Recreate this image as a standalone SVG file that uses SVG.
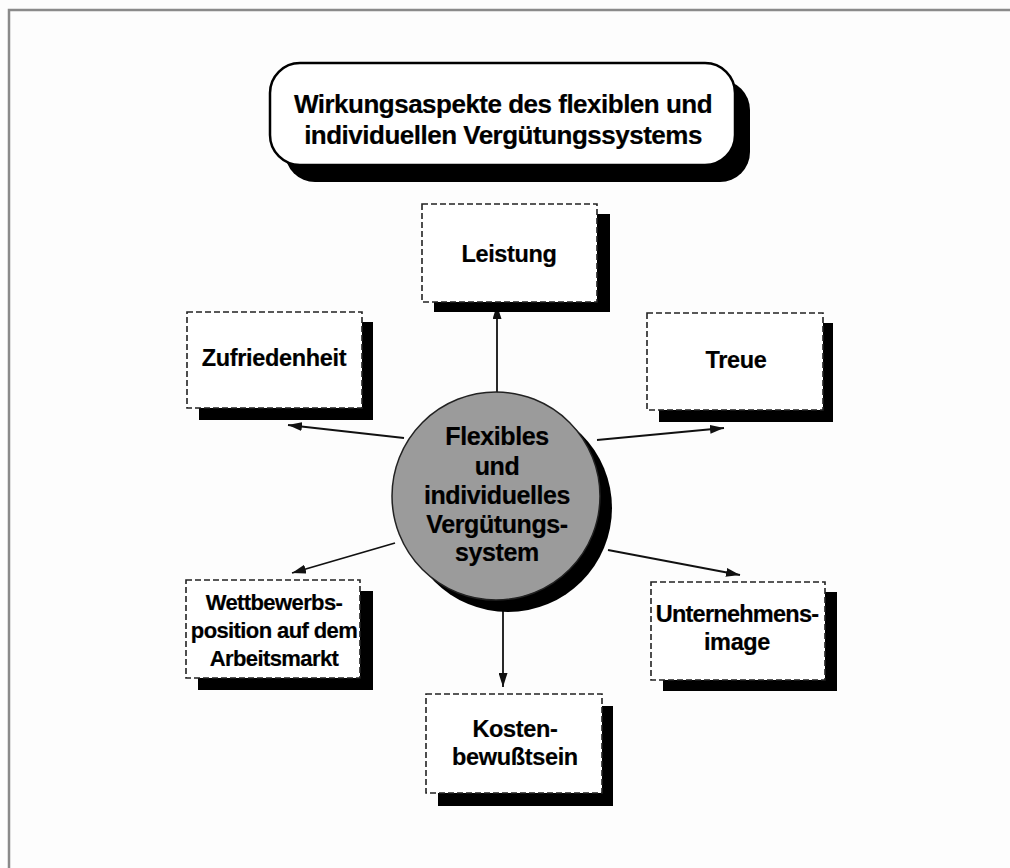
<svg xmlns="http://www.w3.org/2000/svg" width="1010" height="868" viewBox="0 0 1010 868">
  <style>
    text { font-family: "Liberation Sans", Arial, Helvetica, sans-serif; font-weight: bold; fill: #000; stroke: #000; stroke-width: 0.2; text-anchor: middle; }
    .title { font-size: 26px; letter-spacing: -0.5px; }
    .lbl { font-size: 23.5px; letter-spacing: -0.35px; }
    .tight { letter-spacing: -0.75px; }
    .small { font-size: 22px; letter-spacing: -0.6px; }
    .ctr { font-size: 25px; letter-spacing: -0.4px; }
    .box { fill: #fff; stroke: #222; stroke-width: 1.6; stroke-dasharray: 6 3; }
    .shadow { fill: #000; }
    .conn { stroke: #111; stroke-width: 1.8; fill: none; marker-end: url(#arrow); }
  </style>
  <defs>
    <marker id="arrow" viewBox="0 0 14 9" refX="14" refY="4.5" markerWidth="14" markerHeight="9" markerUnits="userSpaceOnUse" orient="auto">
      <path d="M0,0 L14,4.5 L0,9 Z" fill="#111"/>
    </marker>
  </defs>

  <rect width="1010" height="868" fill="#fdfdfd"/>
  <!-- page frame (open at right and bottom) -->
  <path d="M9,868 L9,10 L1010,10" fill="none" stroke="#8a8a8a" stroke-width="2.5"/>

  <!-- connectors -->
  <g id="connectors">
    <line class="conn" x1="497" y1="393" x2="497" y2="305"/>
    <line class="conn" x1="404" y1="438" x2="288" y2="425"/>
    <line class="conn" x1="597" y1="440" x2="724" y2="428"/>
    <line class="conn" x1="395" y1="543" x2="292" y2="573"/>
    <line class="conn" x1="608" y1="550" x2="740" y2="575"/>
    <line class="conn" x1="503" y1="598" x2="503" y2="687"/>
  </g>

  <!-- title -->
  <g id="title">
    <rect class="shadow" x="285" y="80" width="465" height="102" rx="30"/>
    <rect x="270" y="63" width="465" height="102" rx="30" fill="#fff" stroke="#000" stroke-width="2.5"/>
    <text class="title" x="503" y="113">Wirkungsaspekte des flexiblen und</text>
    <text class="title" x="503" y="144">individuellen Vergütungssystems</text>
  </g>

  <!-- centre -->
  <g id="center">
    <circle cx="508" cy="508" r="104" fill="#000"/>
    <circle cx="496" cy="496" r="104" fill="#9b9b9b" stroke="#222" stroke-width="1.5"/>
    <text class="ctr" x="497" y="445">Flexibles</text>
    <text class="ctr" x="497" y="475">und</text>
    <text class="ctr" x="497" y="504">individuelles</text>
    <text class="ctr" x="497" y="533">Vergütungs-</text>
    <text class="ctr" x="497" y="561">system</text>
  </g>

  <g id="leistung">
    <rect class="shadow" x="434" y="214" width="176" height="98"/>
    <rect class="box" x="422" y="204" width="175" height="98"/>
    <text class="lbl" x="509" y="262">Leistung</text>
  </g>

  <g id="zufriedenheit">
    <rect class="shadow" x="199" y="322" width="174" height="98"/>
    <rect class="box" x="187" y="312" width="175" height="96"/>
    <text class="lbl" x="274" y="366">Zufriedenheit</text>
  </g>

  <g id="treue">
    <rect class="shadow" x="659" y="323" width="174" height="99"/>
    <rect class="box" x="647" y="313" width="176" height="97"/>
    <text class="lbl" x="736" y="368">Treue</text>
  </g>

  <g id="wettbewerbsposition">
    <rect class="shadow" x="198" y="591" width="175" height="99"/>
    <rect class="box" x="186" y="580" width="174" height="98"/>
    <text class="small" x="274" y="610">Wettbewerbs-</text>
    <text class="small" x="274" y="638">position auf dem</text>
    <text class="small" x="274" y="666">Arbeitsmarkt</text>
  </g>

  <g id="unternehmensimage">
    <rect class="shadow" x="663" y="592" width="174" height="99"/>
    <rect class="box" x="651" y="582" width="174" height="98"/>
    <text class="lbl tight" x="737" y="622">Unternehmens-</text>
    <text class="lbl" x="737" y="650">image</text>
  </g>

  <g id="kostenbewusstsein">
    <rect class="shadow" x="438" y="706" width="175" height="100"/>
    <rect class="box" x="426" y="694" width="176" height="99"/>
    <text class="lbl" x="515" y="737">Kosten-</text>
    <text class="lbl" x="515" y="765">bewußtsein</text>
  </g>
</svg>
